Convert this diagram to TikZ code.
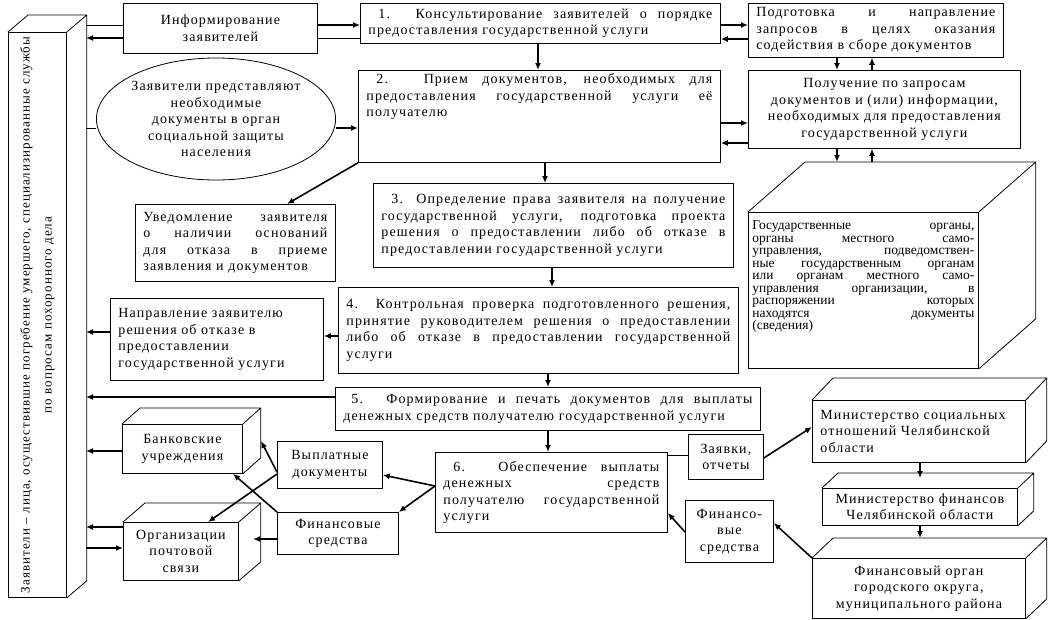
\documentclass[tikz,border=0pt]{standalone}
\usepackage{fontspec}
\setmainfont{Liberation Serif}[LetterSpace=8]
\usepackage{graphicx}
\usetikzlibrary{calc,shapes.geometric,arrows.meta}

\hyphenpenalty=10000
\exhyphenpenalty=10000

% side and top faces of a box drawn as a block
\newcommand{\drawdepth}[3]{%
  \draw[link] (#1.north west) -- ++(#2,#3) -- ($(#1.north east)+(#2,#3)$) -- ($(#1.south east)+(#2,#3)$) -- (#1.south east)
    (#1.north east) -- ++(#2,#3);
}

\begin{document}
\begin{tikzpicture}[x=1pt,y=-1pt,
  box/.style={draw,line width=0.8pt,anchor=north west,inner xsep=8pt,inner ysep=0pt,align=justify,
    font=\fontsize{14}{16.5}\selectfont},
  cbox/.style={box,align=center},
  arrow/.style={-{Latex[length=7pt,width=6pt]},line width=1.6pt},
  link/.style={line width=0.8pt}]
  \useasboundingbox (0,0) rectangle (1048,619);

  % left block
  \node [box,minimum width=58pt,minimum height=565pt,inner xsep=0pt,text width=58pt,align=center,
    font=\fontsize{13}{22}\selectfont] (left_box) at (8,32)
    {\rotatebox{90}{\parbox{560pt}{\centering Заявители – лица, осуществившие погребение умершего, специализированные службы\\по вопросам похоронного дела}}};
  \drawdepth{left_box}{20}{-17}
  \coordinate (left_back) at (86,0);

  % top part
  \node [cbox,minimum width=194pt,minimum height=50pt,text width=178pt] (info_box) at (123,3) {Информирование\\заявителей};
  \node [box,minimum width=360pt,minimum height=40pt,text width=344pt] (box_1) at (360,3)
    {\hspace*{10pt}1. Консультирование заявителей о порядке\linebreak предоставления государственной услуги};
  \node [box,minimum width=255pt,minimum height=54pt,text width=239pt] (podg_box) at (748,3)
    {Подготовка и направление\linebreak запросов в целях оказания\linebreak содействия в сборе документов};
  \node [cbox,minimum width=272pt,minimum height=78pt,text width=256pt] (poluch_box) at (748,70)
    {Получение по запросам\\документов и (или) информации,\\необходимых для предоставления\\государственной услуги};
  \node [box,minimum width=362pt,minimum height=92pt,text width=346pt] (box_2) at (358,70)
    {\hspace*{10pt}2. Прием документов, необходимых для\linebreak предоставления государственной услуги её\linebreak получателю\par\vspace{26pt}\hbox{}};
  \node [draw,link,ellipse,minimum width=235pt,minimum height=122pt,inner sep=0pt,align=center,
    font=\fontsize{14}{16.5}\selectfont] (appl_ellipse) at (216,119)
    {Заявители представляют\\необходимые\\документы в орган\\социальной защиты\\населения};
  \node [box,minimum width=200pt,minimum height=77pt,text width=184pt] (uved_box) at (135,204)
    {Уведомление заявителя\linebreak о наличии оснований\linebreak для отказа в приеме\linebreak заявления и документов};
  \node [box,minimum width=360pt,minimum height=84pt,text width=344pt] (box_3) at (373,183)
    {\hspace*{10pt}3. Определение права заявителя на получение\linebreak государственной услуги, подготовка проекта\linebreak решения о предоставлении либо об отказе в\linebreak предоставлении государственной услуги};
  \node [box,minimum width=400pt,minimum height=86pt,text width=384pt] (box_4) at (338,287)
    {4. Контрольная проверка подготовленного решения,\linebreak принятие руководителем решения о предоставлении\linebreak либо об отказе в предоставлении государственной\linebreak услуги};
  \node [box,minimum width=213pt,minimum height=82pt,text width=197pt] (napr_box) at (110,298)
    {Направление заявителю\\решения об отказе в\\предоставлении\\государственной услуги};
  \node [box,minimum width=230pt,minimum height=156pt,inner xsep=4pt,text width=222pt,
    font=\fontsize{13.5}{12.5}\selectfont\addfontfeatures{LetterSpace=0}] (gov_box) at (748,212)
    {Государственные органы,\linebreak органы местного само-\linebreak управления, подведомствен-\linebreak ные государственным органам\linebreak или органам местного само-\linebreak управления организации, в\linebreak распоряжении которых\linebreak находятся документы\linebreak (сведения)\par\vspace{18pt}\hbox{}};
  \drawdepth{gov_box}{57}{-50}

  % payment part
  \node [box,minimum width=425pt,minimum height=43pt,text width=409pt] (box_5) at (335,387)
    {\hspace*{8pt}5. Формирование и печать документов для выплаты\linebreak денежных средств получателю государственной услуги};
  \node [box,minimum width=232pt,minimum height=80pt,text width=216pt] (box_6) at (435,452)
    {\hspace*{10pt}6. Обеспечение выплаты\linebreak денежных средств\linebreak получателю государственной\linebreak услуги};
  \node [cbox,minimum width=75pt,minimum height=45pt,inner xsep=2pt,text width=71pt] (zayav_box) at (688,434) {Заявки,\\отчеты};
  \node [cbox,minimum width=88pt,minimum height=62pt,inner xsep=2pt,text width=84pt] (finr_box) at (685,500) {Финансо-\\вые\\средства};
  \node [box,align=left,minimum width=213pt,minimum height=62pt,text width=197pt] (minsoc_box) at (812,400)
    {Министерство социальных\\отношений Челябинской\\области};
  \drawdepth{minsoc_box}{21}{-22}
  \node [cbox,minimum width=195pt,minimum height=37pt,text width=179pt] (minfin_box) at (822,488)
    {Министерство финансов\\Челябинской области};
  \drawdepth{minfin_box}{16}{-15}
  \node [cbox,minimum width=213pt,minimum height=60pt,text width=197pt] (finorg_box) at (812,558)
    {Финансовый орган\\городского округа,\\муниципального района};
  \drawdepth{finorg_box}{21}{-20}
  \node [cbox,minimum width=120pt,minimum height=49pt,inner xsep=2pt,text width=116pt] (bank_box) at (122,424) {Банковские\\учреждения};
  \drawdepth{bank_box}{18}{-16}
  \node [cbox,minimum width=115pt,minimum height=58pt,inner xsep=2pt,text width=111pt] (post_box) at (123,522) {Организации\\почтовой\\связи};
  \drawdepth{post_box}{22}{-19}
  \node [cbox,minimum width=105pt,minimum height=47pt,inner xsep=2pt,text width=101pt] (vypl_box) at (277,441) {Выплатные\\документы};
  \node [cbox,minimum width=121pt,minimum height=42pt,inner xsep=2pt,text width=117pt] (finl_box) at (277,512) {Финансовые\\средства};

  % connectors, top
  \draw [arrow] (info_box.east |- 0,25) -- (box_1.west |- 0,25);
  \draw [link] (box_1.west |- 0,38) -- (info_box.east |- 0,38);
  \draw [arrow] (info_box.west |- 0,38) -- (left_back |- 0,38);
  \draw [link] (left_back |- 0,25) -- (info_box.west |- 0,25);
  \draw [arrow] (box_1.east |- 0,25) -- (podg_box.west |- 0,25);
  \draw [arrow] (podg_box.west |- 0,39) -- (box_1.east |- 0,39);
  \draw [arrow] (podg_box.south -| 837,0) -- (poluch_box.north -| 837,0);
  \draw [arrow] (poluch_box.north -| 872,0) -- (podg_box.south -| 872,0);
  \draw [arrow] (box_1.south -| 538,0) -- (box_2.north -| 538,0);
  \draw [arrow] (box_2.east |- 0,123) -- (poluch_box.west |- 0,123);
  \draw [arrow] (poluch_box.west |- 0,143) -- (box_2.east |- 0,143);
  \draw [arrow] (poluch_box.south -| 837,0) -- (837,162);
  \draw [arrow] (872,162) -- (poluch_box.south -| 872,0);
  \draw [link] (left_back |- 0,128) -- (appl_ellipse.west |- 0,128);
  \draw [arrow] (appl_ellipse.east |- 0,128) -- (box_2.west |- 0,128);
  \draw [arrow] (box_2.south west) -- (uved_box.north -| 287,0);
  \draw [arrow] (box_2.south -| 545,0) -- (box_3.north -| 545,0);
  \draw [arrow] (box_3.south -| 552,0) -- (box_4.north -| 552,0);
  \draw [arrow] (box_4.west |- 0,336) -- (napr_box.east |- 0,336);
  \draw [arrow] (napr_box.west |- 0,332) -- (left_back |- 0,332);
  \draw [arrow] (box_4.south -| 548,0) -- (box_5.north -| 548,0);
  \draw [arrow] (box_5.west |- 0,397) -- (left_back |- 0,397);
  \draw [arrow] (box_5.south -| 548,0) -- (box_6.north -| 548,0);

  % connectors, bottom
  \draw [arrow] (bank_box.west |- 0,451) -- (left_back |- 0,451);
  \draw [arrow] (post_box.west |- 0,527) -- (left_back |- 0,527);
  \draw [arrow] (left_back |- 0,548) -- (post_box.west |- 0,548);
  \draw [link] (box_6.east |- 0,455) -- (zayav_box.west |- 0,455);
  \draw [arrow] (zayav_box.east |- 0,458) -- (minsoc_box.west |- 0,427);
  \draw [arrow] (minsoc_box.south -| 920,0) -- (920,478);
  \draw [arrow] (minfin_box.south -| 920,0) -- (920,538);
  \draw [arrow] (finorg_box.north west) -- (finr_box.east |- 0,523);
  \draw [arrow] (finr_box.west |- 0,532) -- (box_6.east |- 0,513);
  \draw [arrow] (box_6.west |- 0,486) -- (vypl_box.east |- 0,475);
  \draw [arrow] (box_6.west |- 0,486) -- (finl_box.north east);
  \draw [arrow] (vypl_box.west |- 0,472) -- (261,441);
  \draw [arrow] (vypl_box.west |- 0,474) -- (post_box.north -| 208,0);
  \draw [arrow] (finl_box.north west) -- (bank_box.south -| 233,0);
  \draw [arrow] (finl_box.west |- 0,539) -- (253,539);
\end{tikzpicture}
\end{document}
